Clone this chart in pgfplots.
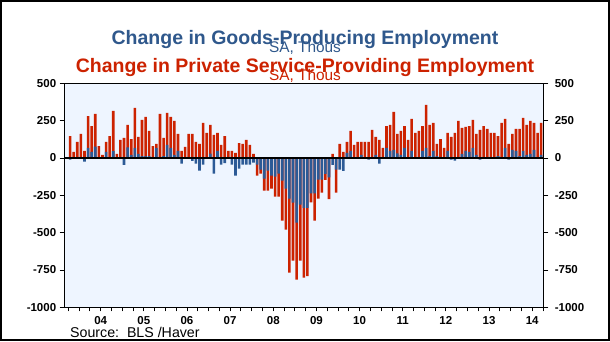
\documentclass[border=0pt]{standalone}
\usepackage{pgfplots}
\usepackage{pgfplotstable}
\pgfplotsset{compat=1.18}
\usepackage{fontspec}
\setmainfont{Liberation Sans}
\definecolor{goodsblue}{RGB}{44,90,150}
\definecolor{titleblue}{RGB}{47,88,140}
\definecolor{servred}{RGB}{204,34,0}
\definecolor{plotbg}{RGB}{238,245,255}

\pgfplotstableread{
i red blue
-3 147 -11
-2 40 0
-1 107 0
0 161 0
1 47 -25
2 281 67
3 214 40
4 295 76
5 80 -5
6 20 0
7 107 40
8 147 0
9 315 45
10 27 -5
11 121 0
12 134 -47
13 221 71
14 127 20
15 335 67
16 141 27
17 255 13
18 275 13
19 181 13
20 80 -5
21 94 67
22 295 0
23 134 13
24 302 87
25 275 67
26 248 20
27 161 47
28 47 -38
29 74 0
30 161 -4
31 161 -20
32 107 -38
33 94 -85
34 235 -45
35 168 0
36 221 29
37 154 -105
38 168 47
39 87 -45
40 147 -34
41 47 0
42 47 -45
43 34 -118
44 100 -71
45 94 -45
46 121 -45
47 87 -45
48 27 -31
49 -118 -45
50 -105 -78
51 -219 -139
52 -219 -85
53 -206 -118
54 -259 -125
55 -259 -105
56 -420 -152
57 -480 -206
58 -768 -273
59 -688 -299
60 -815 -433
61 -688 -313
62 -802 -335
63 -791 -335
64 -297 -237
65 -420 -237
66 -273 -145
67 -232 -145
68 -147 -107
69 -275 -130
70 27 -47
71 -232 -78
72 94 -78
73 40 -87
74 107 34
75 181 47
76 87 0
77 107 0
78 107 20
79 107 0
80 107 -11
81 188 0
82 141 20
83 121 -38
84 67 0
85 214 67
86 221 47
87 308 54
88 161 31
89 181 20
90 214 67
91 121 0
92 261 47
93 168 0
94 181 -5
95 214 47
96 355 67
97 221 13
98 235 47
99 94 13
100 127 -5
101 67 0
102 168 47
103 141 -11
104 168 -18
105 248 0
106 201 27
107 208 47
108 214 40
109 255 67
110 161 20
111 188 -11
112 214 -5
113 194 0
114 168 -5
115 168 0
116 147 13
117 235 0
118 261 67
119 94 -11
120 161 54
121 194 47
122 194 13
123 268 47
124 221 20
125 248 27
126 235 54
127 168 0
128 235 20
}\datatable

\begin{document}
\begin{tikzpicture}[x=1pt,y=1pt]
\useasboundingbox (0,0) rectangle (610,341);
\fill[white] (0,0) rectangle (610,341);
\begin{axis}[
  at={(64.7pt,33.7pt)}, anchor=south west,
  scale only axis, width=478.6pt, height=224pt,
  xmin=-4.5, xmax=128.6, ymin=-1000, ymax=500,
  axis background/.style={fill=plotbg},
  axis line style={black, line width=1.6pt},
  tick align=outside,
  ytick={-1000,-750,...,500},
  ytick pos=both, yticklabel pos=left,
  major tick length=5pt, minor tick length=4pt,
  every tick/.style={black, line width=0.8pt},
  /pgf/number format/assume math mode=true,
  /pgf/number format/1000 sep={},
  yticklabel style={font=\bfseries\fontsize{11.5}{12}\selectfont},
  xtick={5.5,17.5,...,125.5},
  xticklabels={04,05,06,07,08,09,10,11,12,13,14},
  xticklabel style={font=\bfseries\fontsize{11.5}{12}\selectfont, yshift=-1pt},
  major x tick style={draw=none},
  minor xtick={-3.5,-0.5,...,127},
  xtick pos=bottom,
  clip=true,
]
\addplot[ybar, bar width=0.72, bar shift=0pt, fill=servred, draw=none] table[x=i,y=red]{\datatable};
\addplot[ybar, bar width=0.72, bar shift=0pt, fill=goodsblue, draw=none] table[x=i,y=blue]{\datatable};
\addplot[black, line width=1.4pt, forget plot] coordinates {(-4.5,0) (128.6,0)};
\end{axis}
\begin{axis}[
  at={(64.7pt,33.7pt)}, anchor=south west,
  scale only axis, width=478.6pt, height=224pt,
  xmin=-4.5, xmax=128.6, ymin=-1000, ymax=500,
  axis line style={draw=none},
  xtick=\empty,
  ytick={-1000,-750,...,500},
  yticklabel pos=right,
  major tick length=5pt,
  ytick style={draw=none},
  tick align=outside,
  /pgf/number format/assume math mode=true,
  /pgf/number format/1000 sep={},
  yticklabel style={font=\bfseries\fontsize{11.5}{12}\selectfont, xshift=3pt},
]
\end{axis}
\node[anchor=base, text=titleblue, font=\bfseries\fontsize{19.5}{20}\selectfont] at (305,297) {Change in Goods-Producing Employment};
\node[anchor=base, text=titleblue, font=\fontsize{15.4}{16}\selectfont] at (305,288.5) {SA, Thous};
\node[anchor=base, text=servred, font=\bfseries\fontsize{19.5}{20}\selectfont] at (305,269) {Change in Private Service-Providing Employment};
\node[anchor=base, text=servred, font=\fontsize{15.4}{16}\selectfont] at (305,260.5) {SA, Thous};
\node[anchor=base west, font=\fontsize{14.2}{15}\selectfont, inner sep=0pt] at (70,4) {Source:\ \ BLS /Haver};
\draw[black, line width=1.6pt] (0.8,0.8) rectangle (609.2,340.2);
\end{tikzpicture}
\end{document}
